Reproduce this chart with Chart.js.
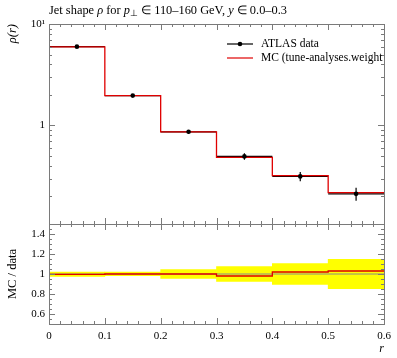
<!DOCTYPE html>
<html>
<head>
<meta charset="utf-8">
<script src="https://cdn.jsdelivr.net/npm/chart.js@4.4.0/dist/chart.umd.min.js"></script>
<style>
html, body { margin: 0; padding: 0; background: #fff; }
</style>
</head>
<body>
<canvas id="jetChart" width="397" height="358"></canvas>
<script>
// bins in r
const bin_edges = [0, 0.1, 0.2, 0.3, 0.4, 0.5, 0.6];
const bin_centres = [0.05, 0.15, 0.25, 0.35, 0.45, 0.55];

// ATLAS data, rho(r) and relative error
const data_rho = [5.98, 1.97, 0.867, 0.496, 0.315, 0.212];
const data_rel_err = [0.022, 0.019, 0.043, 0.073, 0.103, 0.147];

// MC prediction
const mc_rho = [5.95, 1.97, 0.867, 0.486, 0.321, 0.218];

// ratio panel
const ratio_mc = [0.997, 1.0, 1.0, 0.98, 1.02, 1.03];
const band_lo = [0.977, 0.983, 0.957, 0.927, 0.897, 0.853];
const band_hi = [1.02, 1.02, 1.043, 1.073, 1.103, 1.147];

// tick labels
const x_ticks = [0, 0.1, 0.2, 0.3, 0.4, 0.5, 0.6];
const rho_ticks = [1, 10];
const ratio_ticks = [0.6, 0.8, 1, 1.2, 1.4];

const font_family = "'Liberation Serif', serif";
const frame_color = '#7a7a7a';

function stepPoints(values) {
    let pts = values.map((v, i) => ({x: bin_edges[i], y: v}));
    pts.push({x: bin_edges[values.length], y: values[values.length - 1]});
    return pts;
}

const jetPlugin = {
    id: 'jetPlugin',
    beforeDatasetsDraw(chart) {
        const ctx = chart.ctx;
        const xs = chart.scales.x, ys = chart.scales.rho;
        ctx.save();
        ctx.beginPath();
        ctx.rect(chart.chartArea.left, ys.top, chart.chartArea.right - chart.chartArea.left, ys.bottom - ys.top);
        ctx.clip();
        ctx.strokeStyle = '#000';
        ctx.lineWidth = 1.2;
        data_rho.forEach((v, i) => {
            const px = xs.getPixelForValue(bin_centres[i]);
            const py = ys.getPixelForValue(v);
            ctx.beginPath();
            ctx.moveTo(xs.getPixelForValue(bin_edges[i]), py);
            ctx.lineTo(xs.getPixelForValue(bin_edges[i + 1]), py);
            ctx.moveTo(px, ys.getPixelForValue(v * (1 + data_rel_err[i])));
            ctx.lineTo(px, ys.getPixelForValue(v * (1 - data_rel_err[i])));
            ctx.stroke();
        });
        ctx.restore();
    },
    afterDraw(chart) {
        const ctx = chart.ctx;
        const area = chart.chartArea;
        const xs = chart.scales.x, ys = chart.scales.rho, yr = chart.scales.ratio;
        ctx.save();
        ctx.strokeStyle = frame_color;
        ctx.lineWidth = 1;

        // frames
        [ys, yr].forEach(s => {
            ctx.strokeRect(Math.round(area.left) + 0.5, Math.round(s.top) + 0.5,
                Math.round(area.right - area.left), Math.round(s.bottom - s.top));
        });

        ctx.beginPath();
        // x ticks on both panels
        [ys, yr].forEach(s => {
            for (let k = 0; k <= 30; k++) {
                const px = Math.round(xs.getPixelForValue(k * 0.02)) + 0.5;
                const len = (k % 5 === 0) ? 6 : 3;
                ctx.moveTo(px, s.top);
                ctx.lineTo(px, s.top + len);
                ctx.moveTo(px, s.bottom);
                ctx.lineTo(px, s.bottom - len);
            }
        });
        // log ticks
        [0.1, 1, 10].forEach(d => {
            for (let m = 1; m <= 9; m++) {
                const v = m * d;
                if (v < ys.min || v > ys.max * 1.0001) continue;
                const py = Math.round(ys.getPixelForValue(v)) + 0.5;
                const len = m === 1 ? 6 : 3;
                ctx.moveTo(area.left, py);
                ctx.lineTo(area.left + len, py);
                ctx.moveTo(area.right, py);
                ctx.lineTo(area.right - len, py);
            }
        });
        // ratio ticks
        for (let k = 11; k <= 29; k++) {
            const py = Math.round(yr.getPixelForValue(k * 0.05)) + 0.5;
            const len = (k % 4 === 0) ? 6 : 3;
            ctx.moveTo(area.left, py);
            ctx.lineTo(area.left + len, py);
            ctx.moveTo(area.right, py);
            ctx.lineTo(area.right - len, py);
        }
        ctx.stroke();

        // title
        ctx.fillStyle = '#000';
        ctx.textBaseline = 'alphabetic';
        ctx.textAlign = 'left';
        const parts = [
            ['Jet shape ', ''], ['ρ', 'italic '], [' for ', ''], ['p', 'italic '], ['⊥', 'sub'],
            [' ∈ 110–160 GeV, ', ''], ['y', 'italic '], [' ∈ 0.0–0.3', '']
        ];
        let tx = area.left;
        parts.forEach(([t, st]) => {
            if (st === 'sub') {
                ctx.font = '9px ' + font_family;
                ctx.fillText(t, tx, 16);
            } else {
                ctx.font = st + '12.4px ' + font_family;
                ctx.fillText(t, tx, 14);
            }
            tx += ctx.measureText(t).width;
        });

        // legend
        ctx.lineWidth = 1.2;
        ctx.strokeStyle = '#000';
        ctx.beginPath();
        ctx.moveTo(227, 44);
        ctx.lineTo(253, 44);
        ctx.stroke();
        ctx.beginPath();
        ctx.arc(240, 44, 2.3, 0, Math.PI * 2);
        ctx.fill();
        ctx.strokeStyle = '#e00000';
        ctx.beginPath();
        ctx.moveTo(227, 58);
        ctx.lineTo(253, 58);
        ctx.stroke();
        ctx.font = '11.5px ' + font_family;
        ctx.textBaseline = 'middle';
        ctx.fillText('ATLAS data', 261, 44);
        ctx.fillText('MC (tune-analyses.weight', 261, 58);
        ctx.restore();
    }
};

const ctx = document.getElementById('jetChart').getContext('2d');
const jetChart = new Chart(ctx, {
    type: 'line',
    data: {
        datasets: [
            {
                type: 'bar',
                label: 'band',
                data: bin_centres.map((c, i) => ({x: c, y: [band_lo[i], band_hi[i]]})),
                yAxisID: 'ratio',
                backgroundColor: '#ffff00',
                borderWidth: 0,
                barPercentage: 1,
                categoryPercentage: 1,
                order: 5
            },
            {
                label: 'unity',
                data: [{x: 0, y: 1}, {x: 0.6, y: 1}],
                yAxisID: 'ratio',
                borderColor: '#8a8a8a',
                borderWidth: 1,
                pointRadius: 0,
                order: 4
            },
            {
                label: 'MC ratio',
                data: stepPoints(ratio_mc),
                yAxisID: 'ratio',
                stepped: true,
                borderColor: '#e00000',
                borderWidth: 1.3,
                pointRadius: 0,
                order: 3
            },
            {
                label: 'MC (tune-analyses.weight',
                data: stepPoints(mc_rho),
                yAxisID: 'rho',
                stepped: true,
                borderColor: '#e00000',
                borderWidth: 1.3,
                pointRadius: 0,
                order: 2
            },
            {
                label: 'ATLAS data',
                data: data_rho.map((v, i) => ({x: bin_centres[i], y: v})),
                yAxisID: 'rho',
                showLine: false,
                pointRadius: 2.3,
                pointBackgroundColor: '#000',
                pointBorderWidth: 0,
                order: 1
            }
        ]
    },
    options: {
        responsive: false,
        animation: false,
        layout: {padding: {left: 0, right: 13, top: 24, bottom: 0}},
        plugins: {
            legend: {display: false},
            tooltip: {enabled: false}
        },
        scales: {
            x: {
                type: 'linear',
                min: 0,
                max: 0.6,
                offset: false,
                grid: {display: false, drawTicks: false, offset: false},
                border: {display: false},
                afterBuildTicks: s => { s.ticks = x_ticks.map(v => ({value: v})); },
                afterFit: s => { s.height = 34; },
                ticks: {
                    color: '#000',
                    padding: 6,
                    maxRotation: 0,
                    autoSkip: false,
                    font: {family: font_family, size: 11},
                    callback: v => String(v)
                },
                title: {
                    display: true,
                    text: 'r',
                    align: 'end',
                    color: '#000',
                    padding: {top: 0, bottom: 2},
                    font: {family: font_family, size: 12, style: 'italic'}
                }
            },
            ratio: {
                type: 'linear',
                position: 'left',
                stack: 'panels',
                stackWeight: 1,
                min: 0.5,
                max: 1.5,
                grid: {display: false, drawTicks: false},
                border: {display: false},
                afterBuildTicks: s => { s.ticks = ratio_ticks.map(v => ({value: v})); },
                afterFit: s => { s.width = 49; },
                ticks: {
                    color: '#000',
                    padding: 4,
                    autoSkip: false,
                    font: {family: font_family, size: 11},
                    callback: v => String(v)
                },
                title: {
                    display: true,
                    text: 'MC / data',
                    color: '#000',
                    padding: {top: 5, bottom: 0},
                    font: {family: font_family, size: 12.5}
                }
            },
            rho: {
                type: 'logarithmic',
                position: 'left',
                stack: 'panels',
                stackWeight: 2,
                min: 0.107,
                max: 10,
                grid: {display: false, drawTicks: false},
                border: {display: false},
                afterBuildTicks: s => { s.ticks = rho_ticks.map(v => ({value: v})); },
                afterFit: s => { s.width = 49; },
                ticks: {
                    color: '#000',
                    padding: 4,
                    autoSkip: false,
                    font: {family: font_family, size: 11},
                    callback: v => (v === 10 ? '10¹' : String(v))
                },
                title: {
                    display: true,
                    text: 'ρ(r)',
                    align: 'end',
                    color: '#000',
                    padding: {top: 5, bottom: 0},
                    font: {family: font_family, size: 12.5, style: 'italic'}
                }
            }
        }
    },
    plugins: [jetPlugin]
});
</script>
</body>
</html>
